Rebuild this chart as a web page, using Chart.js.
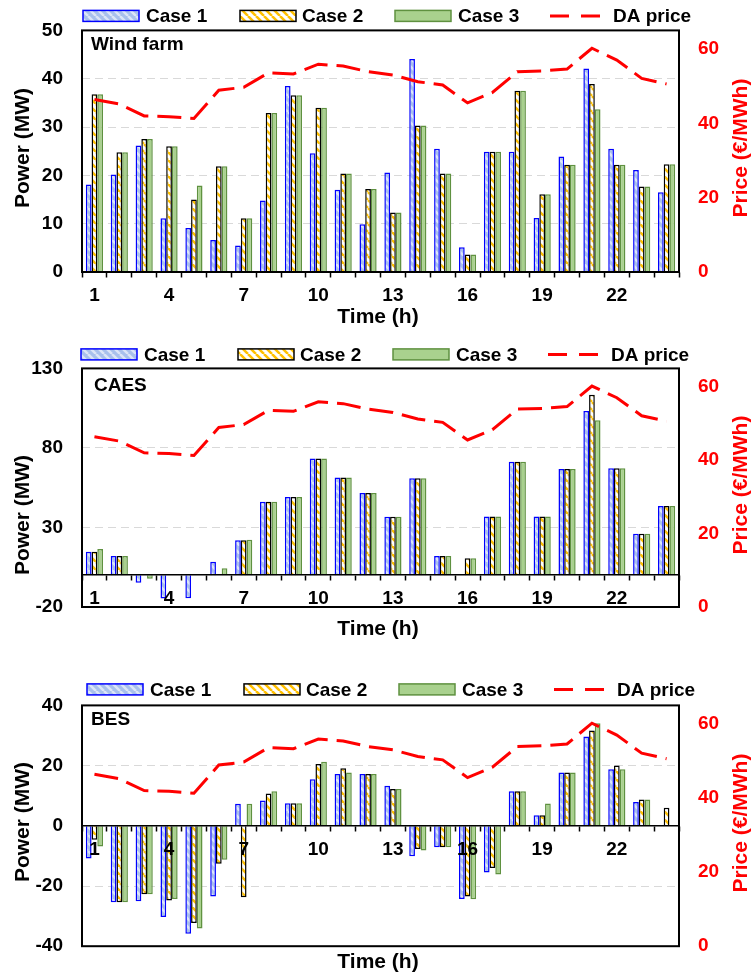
<!DOCTYPE html>
<html><head><meta charset="utf-8">
<script src="https://cdn.jsdelivr.net/npm/chart.js@4.4.1/dist/chart.umd.min.js"></script>
<style>
html,body{margin:0;padding:0;background:#fff;}
#wrap{position:relative;width:756px;height:979px;overflow:hidden;}
.panel{position:absolute;left:0;width:756px;}
</style></head><body>
<div id="wrap">
<div class="panel" style="top:0;height:338px"><canvas id="c1"></canvas></div>
<div class="panel" style="top:338px;height:337px"><canvas id="c2"></canvas></div>
<div class="panel" style="top:675px;height:304px"><canvas id="c3"></canvas></div>
</div>
<script>
// ---------- data ----------
const hours = [1,2,3,4,5,6,7,8,9,10,11,12,13,14,15,16,17,18,19,20,21,22,23,24];
const shownHourTicks = [1,4,7,10,13,16,19,22];
const priceTicks = [0,20,40,60];
const caseNames = ['Case 1','Case 2','Case 3'];
const priceName = 'DA price';

const daPrice = [46.4,45.2,42.0,41.8,41.3,48.9,49.7,53.6,53.3,55.9,55.4,53.9,53.0,51.2,50.3,45.5,48.3,53.9,54.1,54.6,60.2,57.0,52.1,50.6];

const windCase1 = [18.1,20.2,26.2,11.1,9.1,6.6,5.5,14.8,38.5,24.6,17.0,9.9,20.6,44.1,25.5,5.1,24.9,24.9,11.2,23.9,42.1,25.5,21.1,16.5];
const windCase2 = [36.8,24.8,27.5,26.0,15.0,21.9,11.1,32.9,36.6,34.0,20.4,17.2,12.3,30.3,20.4,3.6,24.9,37.5,16.1,22.2,38.9,22.2,17.7,22.3];
const windCase3 = [36.8,24.8,27.5,26.0,17.9,21.9,11.1,32.9,36.6,34.0,20.4,17.2,12.3,30.3,20.4,3.6,24.9,37.5,16.1,22.2,33.7,22.2,17.7,22.3];

const caesCase1 = [14.7,12.0,-4.8,-14.7,-14.5,8.5,21.9,46.2,49.1,73.3,61.4,51.7,36.7,61.0,12.0,0,36.9,71.3,36.9,66.8,103.2,67.2,26.0,43.5];
const caesCase2 = [14.7,12.0,0,0,0,0,22.0,46.2,49.1,73.3,61.4,51.7,36.7,61.0,12.0,10.6,36.9,71.3,36.9,66.8,113.5,67.2,26.0,43.5];
const caesCase3 = [16.4,12.0,-2.3,0,0,4.4,22.2,46.2,49.1,73.3,61.4,51.7,36.7,61.0,12.0,10.6,36.9,71.3,36.9,66.8,97.4,67.2,26.0,43.5];

const besCase1 = [-10.9,-25.4,-25.1,-30.3,-35.9,-23.5,7.3,8.4,7.5,15.5,17.2,17.2,13.3,-10.1,-7.1,-24.3,-15.5,11.5,3.5,17.7,29.7,18.8,7.9,0.3];
const besCase2 = [-4.6,-25.4,-22.7,-24.8,-32.3,-12.6,-23.7,10.7,7.5,20.5,19.1,17.2,12.2,-7.7,-7.1,-23.5,-14.0,11.5,3.5,17.7,31.7,20.0,8.7,6.0];
const besCase3 = [-6.9,-25.4,-22.7,-24.3,-34.1,-11.3,7.3,11.5,7.5,21.3,17.7,17.2,12.2,-8.2,-7.1,-24.4,-16.2,11.5,7.4,17.7,34.1,18.8,8.7,0];

// ---------- styles ----------
const FONT = "'Liberation Sans', Arial, sans-serif";
Chart.defaults.font.family = FONT;
Chart.defaults.font.weight = 'bold';
Chart.defaults.font.size = 19;
Chart.defaults.color = '#000';

function stripePattern(bg, fg, size, lw) {
  const c = document.createElement('canvas');
  c.width = size; c.height = size;
  const g = c.getContext('2d');
  g.fillStyle = bg; g.fillRect(0, 0, size, size);
  g.strokeStyle = fg; g.lineWidth = lw;
  g.beginPath();
  for (let k = -1; k <= 1; k++) {
    g.moveTo(k * size, 0); g.lineTo(k * size + size, size);
  }
  g.stroke();
  return g.createPattern(c, 'repeat');
}
const pat1 = stripePattern('#a8c0ec', '#dce5f7', 8, 2.5);
const pat2 = stripePattern('#ffffff', '#ffc000', 8, 2.5);
const caseFill = [pat1, pat2, '#a9d18e'];
const caseBorder = ['#0000ff', '#000000', '#5f9140'];

const decor = {
  id: 'decor',
  afterDatasetsDraw(chart, args, o) {
    const {ctx, chartArea: a} = chart;
    ctx.save();
    ctx.setLineDash([]);
    ctx.strokeStyle = '#000';
    ctx.lineWidth = 2;
    ctx.strokeRect(a.left, a.top, a.right - a.left, a.bottom - a.top);
    // panel label
    ctx.fillStyle = '#000';
    ctx.font = 'bold 19px ' + FONT;
    ctx.textAlign = 'left';
    ctx.textBaseline = 'middle';
    ctx.fillText(o.panel, o.panelX, a.top + o.panelDy);
    // legend
    const cy = a.top - o.legendDy;
    const dx = o.legendDx;
    const bx = [83, 240, 395], tx = [146, 302, 458];
    for (let i = 0; i < 3; i++) {
      ctx.fillStyle = caseFill[i];
      ctx.fillRect(bx[i] + dx, cy - 5.5, 56, 11);
      ctx.strokeStyle = caseBorder[i];
      ctx.lineWidth = 1.5;
      ctx.strokeRect(bx[i] + dx, cy - 5.5, 56, 11);
      ctx.fillStyle = '#000';
      ctx.fillText(chart.data.datasets[i].label, tx[i] + dx, cy + 1);
    }
    ctx.strokeStyle = '#ff0000';
    ctx.lineWidth = 3;
    ctx.setLineDash([19, 12]);
    ctx.beginPath();
    ctx.moveTo(550 + dx, cy); ctx.lineTo(600 + dx, cy);
    ctx.stroke();
    ctx.setLineDash([]);
    ctx.fillStyle = '#000';
    ctx.fillText(chart.data.datasets[3].label, 613 + dx, cy + 1);
    // axis titles
    ctx.font = 'bold 21px ' + FONT;
    ctx.textAlign = 'center';
    ctx.save();
    ctx.translate(23, o.leftTitleY);
    ctx.rotate(-Math.PI / 2);
    ctx.fillStyle = '#000';
    ctx.fillText('Power (MW)', 0, 0);
    ctx.restore();
    ctx.save();
    ctx.translate(741, o.rightTitleY);
    ctx.rotate(-Math.PI / 2);
    ctx.fillStyle = '#ff0000';
    ctx.fillText('Price (€/MWh)', 0, 0);
    ctx.restore();
    ctx.restore();
  }
};

function makeChart(id, p) {
  const barDs = (i, data) => ({
    label: caseNames[i], data, yAxisID: 'y',
    backgroundColor: caseFill[i], borderColor: caseBorder[i], borderWidth: 1.5,
    categoryPercentage: 0.69, barPercentage: 1.0
  });
  return new Chart(document.getElementById(id), {
    type: 'bar',
    data: {
      labels: hours,
      datasets: [
        barDs(0, p.c1), barDs(1, p.c2), barDs(2, p.c3),
        {type: 'line', label: priceName, data: daPrice, yAxisID: 'y2', order: -1,
         borderColor: '#ff0000', borderWidth: 3, borderDash: [24, 9], pointRadius: 0,
         fill: false, tension: 0}
      ]
    },
    options: {
      responsive: true, maintainAspectRatio: false, animation: false, devicePixelRatio: 1,
      layout: {padding: {top: 26, bottom: p.padBottom, left: 0, right: 0}},
      plugins: {
        legend: {display: false},
        tooltip: {enabled: false},
        title: {display: true, position: 'bottom', text: 'Time (h)', color: '#000',
                font: {size: 21, weight: 'bold'}, padding: {top: p.titlePadTop, bottom: 0}},
        decor: p.decor
      },
      scales: {
        x: {
          position: {y: 0}, offset: true,
          grid: {display: true, offset: true, drawOnChartArea: false, drawTicks: true, z: 1,
                 tickLength: 5, tickColor: '#000', tickWidth: 1.5},
          border: {display: true, color: '#000', width: 1.5, z: 1},
          ticks: {z: 1, autoSkip: false, maxRotation: 0, minRotation: 0, padding: 7.5, color: '#000',
                  font: {size: 19, weight: 'bold'},
                  callback: (v, i) => shownHourTicks.includes(hours[i]) ? String(hours[i]) : ''}
        },
        y: {
          position: 'left', min: p.yMin, max: p.yMax,
          ticks: {stepSize: p.yStep, padding: 19, color: '#000', font: {size: 19, weight: 'bold'}},
          grid: {drawTicks: false, lineWidth: 1,
                 color: c => (c.tick && c.tick.value !== p.yMin && c.tick.value !== p.yMax && c.tick.value !== 0) ? '#d9d9d9' : 'rgba(0,0,0,0)'},
          border: {display: false, dash: [8, 5]},
          afterFit: s => { s.width = 82; }
        },
        y2: {
          position: 'right', min: 0, max: 65,
          grid: {display: false, drawTicks: false},
          border: {display: false},
          ticks: {padding: 19, color: '#ff0000', font: {size: 19, weight: 'bold'}},
          afterBuildTicks: s => { s.ticks = priceTicks.map(v => ({value: v})); },
          afterFit: s => { s.width = 77; }
        }
      }
    },
    plugins: [decor]
  });
}

makeChart('c1', {c1: windCase1, c2: windCase2, c3: windCase3, yMin: 0, yMax: 50, yStep: 10,
  padBottom: 8.4, titlePadTop: 32.4,
  decor: {panel: 'Wind farm', panelX: 91, panelDy: 14.5, legendDy: 14.5, legendDx: 0, leftTitleY: 148, rightTitleY: 148}});
makeChart('c2', {c1: caesCase1, c2: caesCase2, c3: caesCase3, yMin: -20, yMax: 130, yStep: 50,
  padBottom: 33.4, titlePadTop: 9.4,
  decor: {panel: 'CAES', panelX: 94, panelDy: 17, legendDy: 14, legendDx: -2, leftTitleY: 177, rightTitleY: 147}});
makeChart('c3', {c1: besCase1, c2: besCase2, c3: besCase3, yMin: -40, yMax: 40, yStep: 20,
  padBottom: 3.7, titlePadTop: 3.9,
  decor: {panel: 'BES', panelX: 91, panelDy: 14, legendDy: 16, legendDx: 4, leftTitleY: 147, rightTitleY: 148}});
</script>
</body></html>
